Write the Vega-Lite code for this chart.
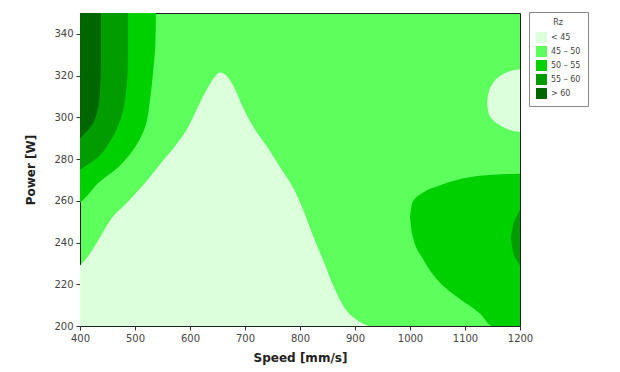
{
  "$schema": "https://vega.github.io/schema/vega-lite/v6.json",
  "autosize": "none",
  "width": 440,
  "height": 313,
  "padding": {"left": 80, "top": 13, "right": 100, "bottom": 46},
  "background": "white",
  "config": {
    "view": {"fill": "#5cff5c", "stroke": "#222", "strokeWidth": 1},
    "font": "DejaVu Sans",
    "axis": {"grid": false, "domain": false, "tickColor": "#333", "tickSize": 4, "labelFontSize": 10, "labelColor": "#444", "titleFontSize": 12, "titleFontWeight": "bold", "titleColor": "#222", "labelPadding": 3, "labelFlush": false}
  },
  "data": {"values": [
    {"part": "L1", "level": "< 45", "speed": 400, "lo": 200, "hi": 229},
    {"part": "L1", "level": "< 45", "speed": 409, "lo": 200, "hi": 231.5},
    {"part": "L1", "level": "< 45", "speed": 433, "lo": 200, "hi": 241},
    {"part": "L1", "level": "< 45", "speed": 456, "lo": 200, "hi": 251},
    {"part": "L1", "level": "< 45", "speed": 487, "lo": 200, "hi": 259.5},
    {"part": "L1", "level": "< 45", "speed": 518, "lo": 200, "hi": 268.5},
    {"part": "L1", "level": "< 45", "speed": 547, "lo": 200, "hi": 278},
    {"part": "L1", "level": "< 45", "speed": 578, "lo": 200, "hi": 288},
    {"part": "L1", "level": "< 45", "speed": 598, "lo": 200, "hi": 296},
    {"part": "L1", "level": "< 45", "speed": 618, "lo": 200, "hi": 307},
    {"part": "L1", "level": "< 45", "speed": 633, "lo": 200, "hi": 314.5},
    {"part": "L1", "level": "< 45", "speed": 645, "lo": 200, "hi": 319.5},
    {"part": "L1", "level": "< 45", "speed": 655, "lo": 200, "hi": 321.5},
    {"part": "L1", "level": "< 45", "speed": 666, "lo": 200, "hi": 320},
    {"part": "L1", "level": "< 45", "speed": 678, "lo": 200, "hi": 315.5},
    {"part": "L1", "level": "< 45", "speed": 696, "lo": 200, "hi": 305},
    {"part": "L1", "level": "< 45", "speed": 715, "lo": 200, "hi": 295.5},
    {"part": "L1", "level": "< 45", "speed": 740, "lo": 200, "hi": 286},
    {"part": "L1", "level": "< 45", "speed": 764, "lo": 200, "hi": 276},
    {"part": "L1", "level": "< 45", "speed": 787, "lo": 200, "hi": 266.5},
    {"part": "L1", "level": "< 45", "speed": 806, "lo": 200, "hi": 255.5},
    {"part": "L1", "level": "< 45", "speed": 824, "lo": 200, "hi": 243},
    {"part": "L1", "level": "< 45", "speed": 842, "lo": 200, "hi": 231.5},
    {"part": "L1", "level": "< 45", "speed": 861, "lo": 200, "hi": 219},
    {"part": "L1", "level": "< 45", "speed": 879, "lo": 200, "hi": 209.5},
    {"part": "L1", "level": "< 45", "speed": 903, "lo": 200, "hi": 203},
    {"part": "L1", "level": "< 45", "speed": 925, "lo": 200, "hi": 200},
    {"part": "L2", "level": "< 45", "speed": 1140, "lo": 307, "hi": 307},
    {"part": "L2", "level": "< 45", "speed": 1143, "lo": 302, "hi": 312},
    {"part": "L2", "level": "< 45", "speed": 1150, "lo": 299, "hi": 316},
    {"part": "L2", "level": "< 45", "speed": 1165, "lo": 296, "hi": 320},
    {"part": "L2", "level": "< 45", "speed": 1180, "lo": 294, "hi": 322},
    {"part": "L2", "level": "< 45", "speed": 1200, "lo": 293, "hi": 323},
    {"part": "B1", "level": "50 – 55", "speed": 1000, "lo": 252, "hi": 252},
    {"part": "B1", "level": "50 – 55", "speed": 1004, "lo": 244, "hi": 259},
    {"part": "B1", "level": "50 – 55", "speed": 1024, "lo": 232, "hi": 264},
    {"part": "B1", "level": "50 – 55", "speed": 1050, "lo": 222, "hi": 267},
    {"part": "B1", "level": "50 – 55", "speed": 1085, "lo": 214, "hi": 270},
    {"part": "B1", "level": "50 – 55", "speed": 1127, "lo": 206, "hi": 272},
    {"part": "B1", "level": "50 – 55", "speed": 1150, "lo": 200, "hi": 272.5},
    {"part": "B1", "level": "50 – 55", "speed": 1200, "lo": 200, "hi": 273},
    {"part": "S1", "level": "55 – 60", "speed": 1183, "lo": 242, "hi": 242},
    {"part": "S1", "level": "55 – 60", "speed": 1188, "lo": 235, "hi": 249},
    {"part": "S1", "level": "55 – 60", "speed": 1195, "lo": 231, "hi": 253},
    {"part": "S1", "level": "55 – 60", "speed": 1200, "lo": 229, "hi": 256},
    {"part": "H50", "level": "50 – 55", "power": 259, "speed": 400},
    {"part": "H50", "level": "50 – 55", "power": 263, "speed": 415},
    {"part": "H50", "level": "50 – 55", "power": 268.5, "speed": 433},
    {"part": "H50", "level": "50 – 55", "power": 276, "speed": 469},
    {"part": "H50", "level": "50 – 55", "power": 283, "speed": 493},
    {"part": "H50", "level": "50 – 55", "power": 295, "speed": 518},
    {"part": "H50", "level": "50 – 55", "power": 308, "speed": 527},
    {"part": "H50", "level": "50 – 55", "power": 322, "speed": 533},
    {"part": "H50", "level": "50 – 55", "power": 335, "speed": 537},
    {"part": "H50", "level": "50 – 55", "power": 350, "speed": 538},
    {"part": "H55", "level": "55 – 60", "power": 275, "speed": 400},
    {"part": "H55", "level": "55 – 60", "power": 281, "speed": 433},
    {"part": "H55", "level": "55 – 60", "power": 289, "speed": 456},
    {"part": "H55", "level": "55 – 60", "power": 300, "speed": 475},
    {"part": "H55", "level": "55 – 60", "power": 313, "speed": 484},
    {"part": "H55", "level": "55 – 60", "power": 327.5, "speed": 487},
    {"part": "H55", "level": "55 – 60", "power": 350, "speed": 487},
    {"part": "H60", "level": "> 60", "power": 290, "speed": 400},
    {"part": "H60", "level": "> 60", "power": 299, "speed": 427},
    {"part": "H60", "level": "> 60", "power": 311.5, "speed": 436},
    {"part": "H60", "level": "> 60", "power": 327, "speed": 438},
    {"part": "H60", "level": "> 60", "power": 350, "speed": 438}
  ]},
  "encoding": {
    "color": {
      "field": "level", "type": "nominal",
      "scale": {"domain": ["< 45", "45 – 50", "50 – 55", "55 – 60", "> 60"], "range": ["#dcffdc", "#5cff5c", "#00d000", "#009c00", "#006600"]},
      "legend": {"title": "Rz", "orient": "none", "legendX": 449, "legendY": -1, "symbolType": "square", "symbolSize": 120, "symbolStrokeWidth": 0, "labelFontSize": 8, "titleFontSize": 8, "titleFontWeight": "normal", "titleAnchor": "middle", "strokeColor": "#888", "padding": 7, "rowPadding": 3, "labelColor": "#444", "titleColor": "#444", "fillColor": "white"}
    }
  },
  "layer": [
    {
      "transform": [{"filter": "datum.part === 'L1' || datum.part === 'L2' || datum.part === 'B1' || datum.part === 'S1'"}],
      "mark": {"type": "area", "interpolate": "monotone", "orient": "vertical", "clip": true},
      "encoding": {
        "detail": {"field": "part"},
        "x": {"field": "speed", "type": "quantitative", "scale": {"domain": [400, 1200], "nice": false}, "axis": {"values": [400, 500, 600, 700, 800, 900, 1000, 1100, 1200], "format": "d", "title": "Speed [mm/s]", "titlePadding": 9}},
        "y": {"field": "hi", "type": "quantitative", "scale": {"domain": [200, 350], "nice": false}, "axis": {"values": [200, 220, 240, 260, 280, 300, 320, 340], "title": "Power [W]", "titlePadding": 16}},
        "y2": {"field": "lo"}
      }
    },
    {
      "transform": [{"filter": "datum.part === 'H50' || datum.part === 'H55' || datum.part === 'H60'"}],
      "mark": {"type": "area", "interpolate": "monotone", "orient": "horizontal", "clip": true},
      "encoding": {
        "detail": {"field": "part"},
        "y": {"field": "power", "type": "quantitative"},
        "x": {"field": "speed", "type": "quantitative", "stack": null},
        "x2": {"datum": 400}
      }
    }
  ]
}
